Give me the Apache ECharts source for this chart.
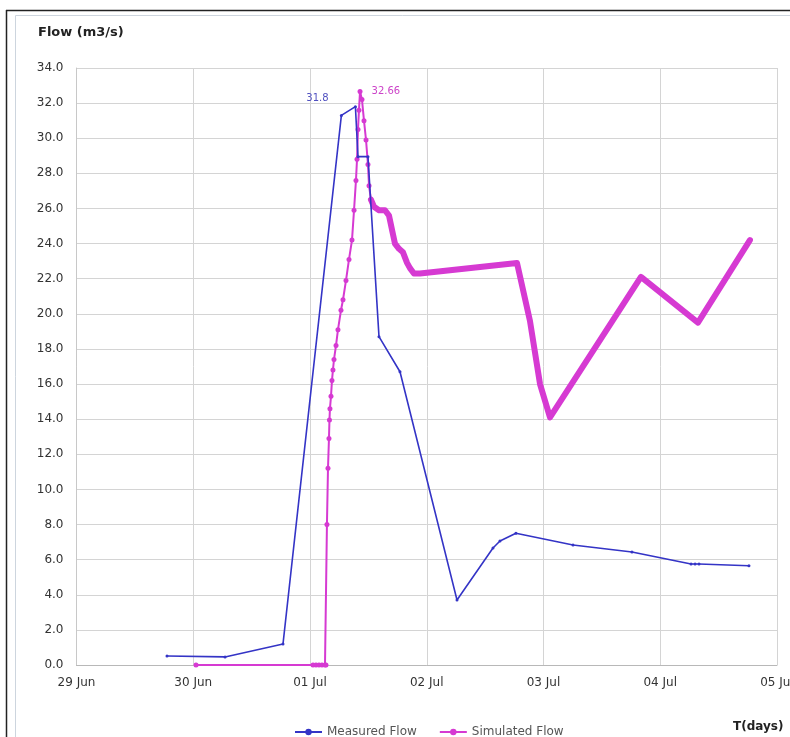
<!DOCTYPE html>
<html>
<head>
<meta charset="utf-8">
<script src="https://cdn.jsdelivr.net/npm/echarts@6/dist/echarts.min.js"></script>
<style>
html,body{margin:0;padding:0;background:#fff;overflow:hidden;width:790px;height:737px;}
#chart{width:790px;height:737px;}
</style>
</head>
<body>
<div id="chart"></div>
<script>
// ---- data ----
const dayLabels = ['29 Jun', '30 Jun', '01 Jul', '02 Jul', '03 Jul', '04 Jul', '05 Jul'];

const measuredTimes = [
  '2013-06-29 18:36', '2013-06-30 06:32', '2013-06-30 18:27', '2013-07-01 06:27',
  '2013-07-01 09:20', '2013-07-01 09:52', '2013-07-01 11:55', '2013-07-01 14:11',
  '2013-07-01 18:30', '2013-07-02 06:13', '2013-07-02 13:37', '2013-07-02 15:03',
  '2013-07-02 18:20', '2013-07-03 06:04', '2013-07-03 18:11', '2013-07-04 06:20',
  '2013-07-04 07:09', '2013-07-04 07:58', '2013-07-04 18:14'
];
const measuredValues = [
  0.51, 0.46, 1.2, 31.3,
  31.8, 28.95, 28.95, 18.7,
  16.7, 3.7, 6.66, 7.06,
  7.5, 6.83, 6.44, 5.75,
  5.75, 5.75, 5.65
];

const simulatedTimes = [
  '2013-06-30 00:34', '2013-07-01 00:37', '2013-07-01 01:14', '2013-07-01 01:51',
  '2013-07-01 02:28', '2013-07-01 03:05', '2013-07-01 03:17', '2013-07-01 03:29',
  '2013-07-01 03:42', '2013-07-01 03:54', '2013-07-01 04:00', '2013-07-01 04:06',
  '2013-07-01 04:19', '2013-07-01 04:31', '2013-07-01 04:43', '2013-07-01 04:56',
  '2013-07-01 05:21', '2013-07-01 05:45', '2013-07-01 06:22', '2013-07-01 06:47',
  '2013-07-01 07:24', '2013-07-01 08:01', '2013-07-01 08:38', '2013-07-01 09:03',
  '2013-07-01 09:27', '2013-07-01 09:40', '2013-07-01 09:52', '2013-07-01 10:04',
  '2013-07-01 10:17', '2013-07-01 10:41', '2013-07-01 11:06', '2013-07-01 11:31',
  '2013-07-01 11:55', '2013-07-01 12:08', '2013-07-01 12:32', '2013-07-01 13:09',
  '2013-07-01 14:11', '2013-07-01 15:25', '2013-07-01 16:14', '2013-07-01 16:51',
  '2013-07-01 17:28', '2013-07-01 18:18', '2013-07-01 19:07', '2013-07-01 19:57',
  '2013-07-01 20:33', '2013-07-01 21:22', '2013-07-01 22:36', '2013-07-02 18:33',
  '2013-07-02 21:13', '2013-07-02 23:17', '2013-07-03 01:20', '2013-07-03 20:02',
  '2013-07-04 07:45', '2013-07-04 18:26'
];
const simulatedValues = [
  0, 0, 0, 0,
  0, 0, 0, 8.0,
  11.2, 12.9, 13.95, 14.6,
  15.3, 16.2, 16.8, 17.4,
  18.2, 19.1, 20.2, 20.8,
  21.9, 23.1, 24.2, 25.9,
  27.6, 28.8, 30.5, 31.6,
  32.66, 32.2, 31.0, 29.9,
  28.5, 27.3, 26.5, 26.1,
  25.9, 25.9, 25.6, 24.8,
  24.0, 23.7, 23.5, 22.9,
  22.6, 22.3, 22.3, 22.9,
  19.6, 16.0, 14.1, 22.1,
  19.5, 24.2
];

// ---- build chart ----
const measuredColor = '#3434c6';
const simulatedColor = '#d63ad2';
const font = 'DejaVu Sans, Verdana, sans-serif';
const measuredPeakIdx = measuredValues.indexOf(Math.max(...measuredValues));
const simPeakIdx = simulatedValues.indexOf(Math.max(...simulatedValues));
const splitIdx = simPeakIdx + 6;

const measuredData = measuredTimes.map((t, i) => {
  const item = { value: [t, measuredValues[i]] };
  if (i === measuredPeakIdx) {
    item.label = { show: true, position: 'top', offset: [-38, 3], formatter: String(measuredValues[i]),
      color: '#5050c0', fontSize: 10, fontFamily: font };
  }
  return item;
});
const simAll = simulatedTimes.map((t, i) => {
  const item = { value: [t, simulatedValues[i]] };
  if (i === simPeakIdx) {
    item.label = { show: true, position: 'right', distance: 9, formatter: String(simulatedValues[i]),
      color: '#cc44c8', fontSize: 10, fontFamily: font };
  }
  return item;
});
const simThin = simAll.slice(0, splitIdx + 1);
const simThick = simulatedTimes.slice(splitIdx).map((t, j) => [t, simulatedValues[splitIdx + j]]);

const DAY = 86400000;
const xMin = new Date(2013, 5, 29).getTime();
const xMax = new Date(2013, 6, 5).getTime();

const chart = echarts.init(document.getElementById('chart'), null, { renderer: 'canvas', width: 790, height: 737 });
chart.setOption({
  animation: false,
  backgroundColor: '#ffffff',
  title: {
    text: 'Flow (m3/s)', left: 33, top: 21,
    textStyle: { fontSize: 13, fontWeight: 'bold', color: '#222', fontFamily: font }
  },
  legend: {
    data: ['Measured Flow', 'Simulated Flow'],
    left: 289, top: 721, itemWidth: 27, itemHeight: 8, itemGap: 22,
    textStyle: { fontSize: 12, color: '#555', fontFamily: font }
  },
  grid: { left: 76.5, right: 13, top: 68, bottom: 72, containLabel: false, outerBoundsMode: 'none' },
  xAxis: {
    type: 'time', min: xMin, max: xMax, minInterval: DAY, maxInterval: DAY,
    axisLine: { show: true, lineStyle: { color: '#b8b8b8', width: 1 } },
    axisTick: { show: false },
    splitLine: { show: true, lineStyle: { color: '#d4d4d4', width: 1 } },
    axisLabel: {
      margin: 12, color: '#333', fontSize: 12, fontFamily: font,
      showMinLabel: true, showMaxLabel: true, hideOverlap: false,
      formatter: function (v) { return dayLabels[Math.round((v - xMin) / DAY)] || ''; }
    }
  },
  yAxis: {
    type: 'value', min: 0, max: 34, interval: 2,
    axisLine: { show: true, lineStyle: { color: '#c8c8c8' } },
    axisTick: { show: false },
    splitLine: { show: true, lineStyle: { color: '#d4d4d4', width: 1 } },
    axisLabel: { margin: 13, color: '#333', fontSize: 12, fontFamily: font,
      formatter: function (v) { return v.toFixed(1); } }
  },
  series: [
    {
      name: 'Measured Flow', type: 'line', data: measuredData,
      symbol: 'circle', symbolSize: 3, showSymbol: true,
      lineStyle: { color: measuredColor, width: 1.6 },
      itemStyle: { color: measuredColor }, z: 3
    },
    {
      name: 'Simulated Flow', type: 'line', data: simThin,
      symbol: 'circle', symbolSize: 5, showSymbol: true,
      lineStyle: { color: simulatedColor, width: 2 },
      itemStyle: { color: simulatedColor }, z: 2
    },
    {
      name: 'Simulated Flow', type: 'line', data: simThick,
      symbol: 'none', showSymbol: false,
      lineStyle: { color: simulatedColor, width: 6, cap: 'round', join: 'round' },
      itemStyle: { color: simulatedColor }, z: 2
    }
  ],
  graphic: [
    { type: 'line', shape: { x1: 6, y1: 10.5, x2: 790, y2: 10.5 }, style: { stroke: '#222', lineWidth: 1.5 } },
    { type: 'line', shape: { x1: 6.5, y1: 10, x2: 6.5, y2: 737 }, style: { stroke: '#222', lineWidth: 1.5 } },
    { type: 'line', shape: { x1: 15.5, y1: 15.5, x2: 790, y2: 15.5 }, style: { stroke: '#cdd5de', lineWidth: 1 } },
    { type: 'line', shape: { x1: 15.5, y1: 15.5, x2: 15.5, y2: 737 }, style: { stroke: '#cdd5de', lineWidth: 1 } },
    { type: 'text', left: 733, top: 721,
      style: { text: 'T(days)', font: 'bold 12px DejaVu Sans, Verdana, sans-serif', fill: '#222' } }
  ]
});
</script>
</body>
</html>
